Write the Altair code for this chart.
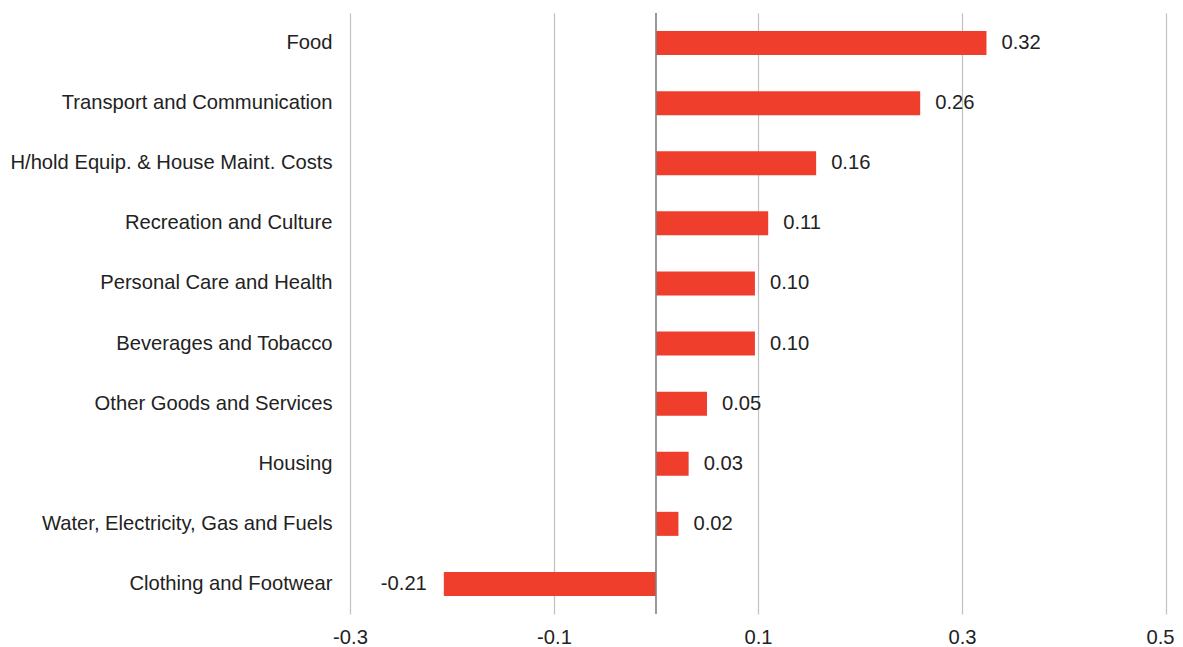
import altair as alt
import pandas as pd

categories = [
    "Food",
    "Transport and Communication",
    "H/hold Equip. & House Maint. Costs",
    "Recreation and Culture",
    "Personal Care and Health",
    "Beverages and Tobacco",
    "Other Goods and Services",
    "Housing",
    "Water, Electricity, Gas and Fuels",
    "Clothing and Footwear",
]
values = [0.324, 0.259, 0.157, 0.110, 0.097, 0.097, 0.050, 0.032, 0.022, -0.208]
tick_values = [-0.3, -0.1, 0.1, 0.3, 0.5]

df = pd.DataFrame({"category": categories, "value": values})
df["label"] = [f"{v:.2f}" for v in values]

FONT = "Liberation Sans"
FS = 20.2
TXT = "#222222"

y_enc = alt.Y(
    "category:N",
    sort=categories,
    title=None,
    scale=alt.Scale(paddingInner=0.6, paddingOuter=0.3),
    axis=alt.Axis(
        labelFont=FONT, labelFontSize=FS, labelColor=TXT, labelPadding=18,
        ticks=False, domain=False, grid=False, labelLimit=400,
    ),
)
x_scale = alt.Scale(domain=[-0.3, 0.5], nice=False, zero=False)
x_enc = alt.X(
    "value:Q",
    scale=x_scale,
    title=None,
    axis=alt.Axis(
        values=tick_values,
        labelExpr="replace(format(datum.value, '.1f'), '\u2212', '-')",
        labelFont=FONT, labelFontSize=FS, labelColor=TXT, labelPadding=13,
        labelFlush=False, labelOverlap=False,
        labelAlign={"condition": {"test": "datum.value > 0.45", "value": "right"}, "value": "center"},
        labelOffset={"condition": {"test": "datum.value > 0.45", "value": 8}, "value": 0},
        ticks=False, domain=False,
        grid=True, gridColor="#c0c0c0", gridWidth=1.2,
    ),
)

base = alt.Chart(df)
bars = base.mark_bar(color="#ef3e2c").encode(x=x_enc, y=y_enc)

zero = alt.Chart(pd.DataFrame({"z": [0]})).mark_rule(color="#808080", strokeWidth=1.6).encode(
    x=alt.X("z:Q", scale=x_scale)
)

pos = base.transform_filter("datum.value >= 0").mark_text(
    align="left", baseline="middle", dx=15, font=FONT, fontSize=FS, color=TXT
).encode(x=alt.X("value:Q", scale=x_scale), y=alt.Y("category:N", sort=categories), text="label:N")
neg = base.transform_filter("datum.value < 0").mark_text(
    align="right", baseline="middle", dx=-17, font=FONT, fontSize=FS, color=TXT
).encode(x=alt.X("value:Q", scale=x_scale), y=alt.Y("category:N", sort=categories), text="label:N")

chart = alt.layer(bars, zero, pos, neg).properties(
    width=816, height=601,
    autosize=alt.AutoSizeParams(type="none"),
    padding={"left": 342, "top": 5, "right": 9, "bottom": 33},
).configure(background="white").configure_view(strokeWidth=0)

chart.save("out.html", embed_options={"renderer": "svg", "actions": False})
